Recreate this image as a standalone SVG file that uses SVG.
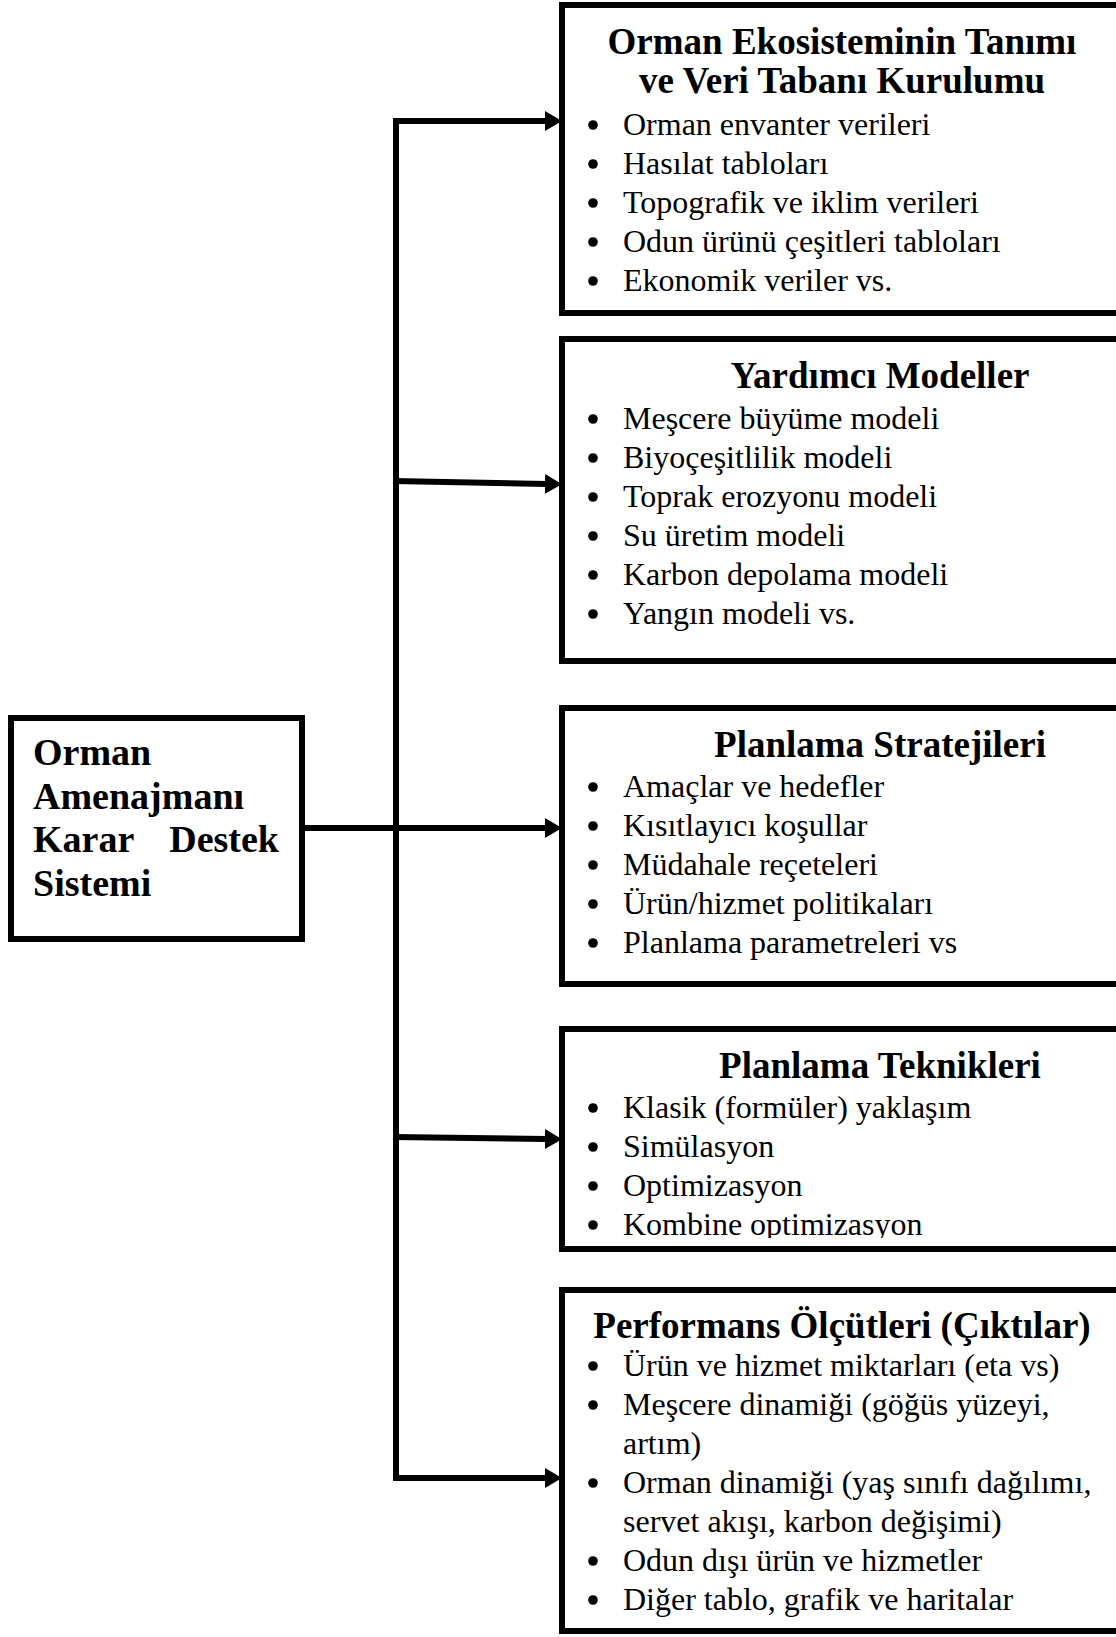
<svg xmlns="http://www.w3.org/2000/svg" width="1116" height="1637" viewBox="0 0 1116 1637">
  <style>
    .box { fill: #fff; stroke: #000; stroke-width: 6; }
    .wire { fill: none; stroke: #000; stroke-width: 6; stroke-linecap: butt; }
    .title { font-family: "Liberation Serif", "Times New Roman", serif; font-weight: bold; font-size: 37px; fill: #000; text-anchor: middle; }
    .main { font-family: "Liberation Serif", "Times New Roman", serif; font-weight: bold; font-size: 38px; fill: #000; }
    .item { font-family: "Liberation Serif", "Times New Roman", serif; font-size: 32px; fill: #000; }
    .dot { fill: #000; }
  </style>
  <defs>
    <marker id="head" markerUnits="userSpaceOnUse" markerWidth="17" markerHeight="20" refX="1" refY="10" orient="auto">
      <path d="M0,0 L17,10 L0,20 z" fill="#000"/>
    </marker>
    <clipPath id="clip-tech">
      <rect x="560" y="1029" width="560" height="209"/>
    </clipPath>
  </defs>

  <rect width="1116" height="1637" fill="#fff"/>

  <!-- connectors: trunk, branches and the main feed line -->
  <g id="connectors">
    <path class="wire" d="M396,118 V1481"/>
    <path class="wire" d="M393,121 H546" marker-end="url(#head)"/>
    <path class="wire" d="M393,481 L546,484" marker-end="url(#head)"/>
    <path class="wire" d="M302,828 H546" marker-end="url(#head)"/>
    <path class="wire" d="M393,1137 L546,1139" marker-end="url(#head)"/>
    <path class="wire" d="M393,1478 H546" marker-end="url(#head)"/>
  </g>

  <!-- central decision support system node -->
  <g id="node-kds">
    <rect class="box" x="11" y="718" width="291" height="221"/>
    <text class="main" x="33" y="765">Orman</text>
    <text class="main" x="33" y="809">Amenajmanı</text>
    <text class="main" x="33" y="852">Karar</text>
    <text class="main" x="279" y="852" text-anchor="end">Destek</text>
    <text class="main" x="33" y="896">Sistemi</text>
  </g>

  <!-- ecosystem definition and database -->
  <g id="node-veri">
    <rect class="box" x="562" y="5" width="570" height="308"/>
    <text class="title" x="842" y="54">Orman Ekosisteminin Tanımı</text>
    <text class="title" x="842" y="93">ve Veri Tabanı Kurulumu</text>
    <circle class="dot" cx="593" cy="125" r="4.8"/>
    <text class="item" x="623" y="135">Orman envanter verileri</text>
    <circle class="dot" cx="593" cy="164" r="4.8"/>
    <text class="item" x="623" y="174">Hasılat tabloları</text>
    <circle class="dot" cx="593" cy="203" r="4.8"/>
    <text class="item" x="623" y="213">Topografik ve iklim verileri</text>
    <circle class="dot" cx="593" cy="242" r="4.8"/>
    <text class="item" x="623" y="252">Odun ürünü çeşitleri tabloları</text>
    <circle class="dot" cx="593" cy="281" r="4.8"/>
    <text class="item" x="623" y="291">Ekonomik veriler vs.</text>
  </g>

  <!-- auxiliary models -->
  <g id="node-modeller">
    <rect class="box" x="562" y="339" width="570" height="322"/>
    <text class="title" x="880" y="388">Yardımcı Modeller</text>
    <circle class="dot" cx="593" cy="419" r="4.8"/>
    <text class="item" x="623" y="429">Meşcere büyüme modeli</text>
    <circle class="dot" cx="593" cy="458" r="4.8"/>
    <text class="item" x="623" y="468">Biyoçeşitlilik modeli</text>
    <circle class="dot" cx="593" cy="497" r="4.8"/>
    <text class="item" x="623" y="507">Toprak erozyonu modeli</text>
    <circle class="dot" cx="593" cy="536" r="4.8"/>
    <text class="item" x="623" y="546">Su üretim modeli</text>
    <circle class="dot" cx="593" cy="575" r="4.8"/>
    <text class="item" x="623" y="585">Karbon depolama modeli</text>
    <circle class="dot" cx="593" cy="614" r="4.8"/>
    <text class="item" x="623" y="624">Yangın modeli vs.</text>
  </g>

  <!-- planning strategies -->
  <g id="node-strateji">
    <rect class="box" x="562" y="708" width="570" height="276"/>
    <text class="title" x="880" y="757">Planlama Stratejileri</text>
    <circle class="dot" cx="593" cy="787" r="4.8"/>
    <text class="item" x="623" y="797">Amaçlar ve hedefler</text>
    <circle class="dot" cx="593" cy="826" r="4.8"/>
    <text class="item" x="623" y="836">Kısıtlayıcı koşullar</text>
    <circle class="dot" cx="593" cy="865" r="4.8"/>
    <text class="item" x="623" y="875">Müdahale reçeteleri</text>
    <circle class="dot" cx="593" cy="904" r="4.8"/>
    <text class="item" x="623" y="914">Ürün/hizmet politikaları</text>
    <circle class="dot" cx="593" cy="943" r="4.8"/>
    <text class="item" x="623" y="953">Planlama parametreleri vs</text>
  </g>

  <!-- planning techniques (last line is cut by the frame) -->
  <g id="node-teknik">
    <rect class="box" x="562" y="1029" width="570" height="220"/>
    <g clip-path="url(#clip-tech)">
      <text class="title" x="880" y="1078">Planlama Teknikleri</text>
      <circle class="dot" cx="593" cy="1108" r="4.8"/>
      <text class="item" x="623" y="1118">Klasik (formüler) yaklaşım</text>
      <circle class="dot" cx="593" cy="1147" r="4.8"/>
      <text class="item" x="623" y="1157">Simülasyon</text>
      <circle class="dot" cx="593" cy="1186" r="4.8"/>
      <text class="item" x="623" y="1196">Optimizasyon</text>
      <circle class="dot" cx="593" cy="1225" r="4.8"/>
      <text class="item" x="623" y="1235">Kombine optimizasyon</text>
    </g>
  </g>

  <!-- performance measures (outputs) -->
  <g id="node-performans">
    <rect class="box" x="562" y="1290" width="570" height="341"/>
    <text class="title" x="842" y="1338">Performans Ölçütleri (Çıktılar)</text>
    <circle class="dot" cx="593" cy="1366" r="4.8"/>
    <text class="item" x="623" y="1376">Ürün ve hizmet miktarları (eta vs)</text>
    <circle class="dot" cx="593" cy="1405" r="4.8"/>
    <text class="item" x="623" y="1415">Meşcere dinamiği (göğüs yüzeyi,</text>
    <text class="item" x="623" y="1454">artım)</text>
    <circle class="dot" cx="593" cy="1483" r="4.8"/>
    <text class="item" x="623" y="1493">Orman dinamiği (yaş sınıfı dağılımı,</text>
    <text class="item" x="623" y="1532">servet akışı, karbon değişimi)</text>
    <circle class="dot" cx="593" cy="1561" r="4.8"/>
    <text class="item" x="623" y="1571">Odun dışı ürün ve hizmetler</text>
    <circle class="dot" cx="593" cy="1600" r="4.8"/>
    <text class="item" x="623" y="1610">Diğer tablo, grafik ve haritalar</text>
  </g>
</svg>
